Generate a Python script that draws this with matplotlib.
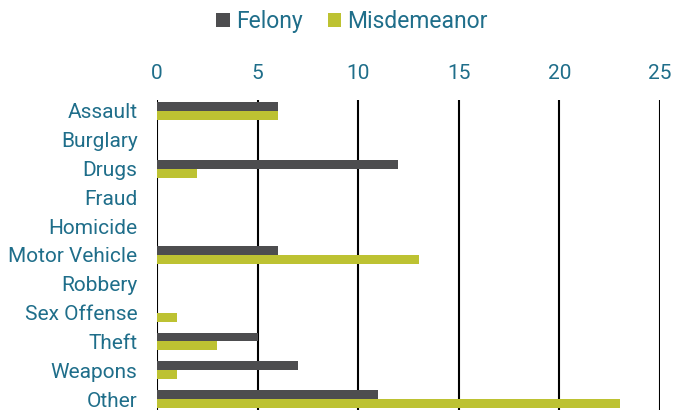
import matplotlib.pyplot as plt
import numpy as np

categories = ["Assault", "Burglary", "Drugs", "Fraud", "Homicide", "Motor Vehicle",
              "Robbery", "Sex Offense", "Theft", "Weapons", "Other"]
felony = [6, 0, 12, 0, 0, 6, 0, 0, 5, 7, 11]
misdemeanor = [6, 0, 2, 0, 0, 13, 0, 1, 3, 1, 23]

text_color = "#1f6e8a"
plt.rcParams['font.family'] = ['Roboto', 'DejaVu Sans']

fig = plt.figure(figsize=(6.82, 4.17), dpi=100)
ax = fig.add_axes([157 / 682, 7 / 417, 503 / 682, 310 / 417])

y = np.arange(len(categories))
h = 0.31
ax.barh(y - h / 2, felony, height=h, color="#4d4d4f", label="Felony", zorder=3)
ax.barh(y + h / 2, misdemeanor, height=h, color="#bdc232", label="Misdemeanor", zorder=3)

ax.set_xlim(0, 25)
ax.set_ylim(len(categories) - 1 + 0.38, -0.38)
ax.set_xticks([0, 5, 10, 15, 20, 25])
ax.set_yticks(y)
ax.set_yticklabels(categories)
ax.xaxis.tick_top()
ax.tick_params(axis="both", length=0, labelsize=15, colors=text_color)
ax.tick_params(axis="x", pad=12)
ax.tick_params(axis="y", pad=14)
ax.grid(axis="x", color="black", linewidth=1.5, zorder=0)
for s in ax.spines.values():
    s.set_visible(False)

fig.legend(loc="upper center", bbox_to_anchor=(0.516, 1.025), ncol=2, frameon=False,
           fontsize=16.5, labelcolor=text_color, handlelength=0.6, handleheight=0.6,
           handletextpad=0.25, columnspacing=1.1)

fig.savefig("out.png", dpi=100)
